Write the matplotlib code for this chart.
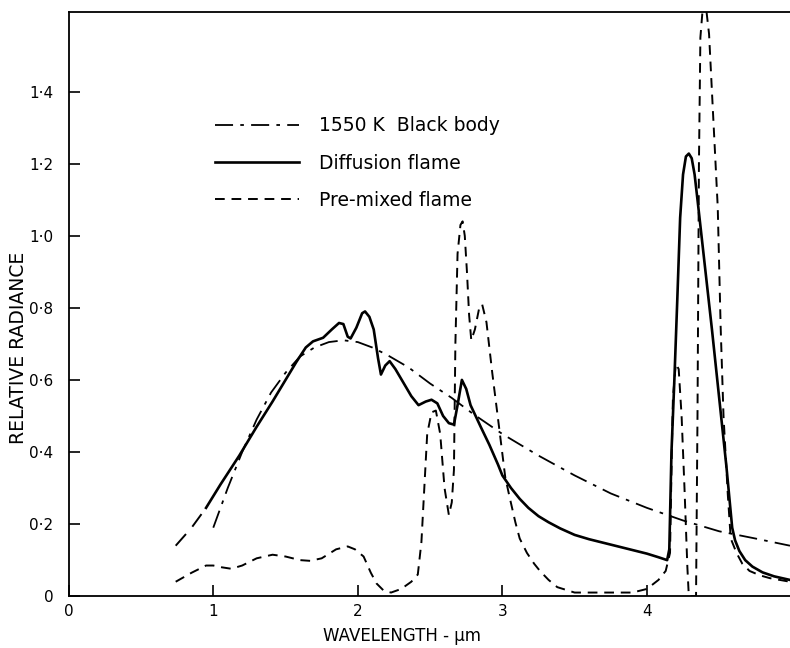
"""Relative radiance of flames vs 1550 K black body (recreated figure)."""

import matplotlib
matplotlib.use('Agg')

import matplotlib.pyplot as plt

# --- data -----------------------------------------------------------------
# 1550 K black body (dash-dot)
bb_wl = [1.00, 1.10, 1.20, 1.30, 1.40, 1.50, 1.60, 1.70, 1.80, 1.90, 2.00,
         2.10, 2.20, 2.35, 2.50, 2.65, 2.80, 3.00, 3.25, 3.50, 3.75, 4.00,
         4.25, 4.50, 4.75, 4.99]
bb_rad = [0.19, 0.30, 0.40, 0.49, 0.565, 0.62, 0.665, 0.69, 0.705, 0.71, 0.705,
          0.69, 0.67, 0.635, 0.59, 0.55, 0.505, 0.45, 0.39, 0.335, 0.285, 0.245,
          0.21, 0.18, 0.16, 0.14]

# diffusion flame, extrapolated part below ~0.95 um (long dashes)
diff_ext_wl = [0.74, 0.85, 0.95]
diff_ext_rad = [0.14, 0.19, 0.245]

# diffusion flame (solid)
diff_wl = [0.95, 1.05, 1.18, 1.30, 1.41, 1.50, 1.575, 1.64, 1.69, 1.76, 1.82,
           1.87, 1.90, 1.93, 1.95, 1.99, 2.03, 2.05, 2.08, 2.11, 2.14, 2.16,
           2.19, 2.22, 2.26, 2.31, 2.37, 2.42, 2.47, 2.51, 2.55, 2.59, 2.63,
           2.665, 2.69, 2.72, 2.75, 2.78, 2.85, 2.91, 2.97, 3.00, 3.06, 3.12,
           3.18, 3.25, 3.32, 3.40, 3.50, 3.60, 3.70, 3.80, 3.90, 4.00, 4.08,
           4.14, 4.155, 4.17, 4.19, 4.21, 4.23, 4.25, 4.27, 4.29, 4.31, 4.33,
           4.35, 4.40, 4.45, 4.50, 4.55, 4.59, 4.61, 4.64, 4.68, 4.73, 4.80,
           4.88, 4.99]
diff_rad = [0.245, 0.31, 0.39, 0.47, 0.54, 0.60, 0.65, 0.69, 0.707, 0.717, 0.74,
            0.758, 0.755, 0.72, 0.715, 0.745, 0.785, 0.79, 0.775, 0.74, 0.66, 0.615,
            0.64, 0.652, 0.63, 0.596, 0.555, 0.53, 0.54, 0.545, 0.535, 0.50, 0.48,
            0.476, 0.53, 0.60, 0.575, 0.53, 0.47, 0.42, 0.365, 0.335, 0.30, 0.27,
            0.245, 0.222, 0.205, 0.188, 0.17, 0.158, 0.148, 0.138, 0.128, 0.118, 0.108,
            0.10, 0.13, 0.40, 0.60, 0.82, 1.05, 1.17, 1.22, 1.228, 1.215, 1.17,
            1.10, 0.92, 0.74, 0.55, 0.36, 0.19, 0.155, 0.125, 0.10, 0.082, 0.066,
            0.055, 0.045]

# pre-mixed flame (dashed)
pre_wl = [0.74, 0.85, 0.95, 1.00, 1.06, 1.125, 1.20, 1.30, 1.41, 1.50, 1.60,
          1.67, 1.75, 1.85, 1.93, 1.98, 2.04, 2.09, 2.13, 2.18, 2.23, 2.30,
          2.37, 2.415, 2.44, 2.46, 2.48, 2.51, 2.54, 2.57, 2.60, 2.63, 2.65,
          2.665, 2.675, 2.69, 2.71, 2.725, 2.74, 2.755, 2.77, 2.785, 2.81, 2.84,
          2.86, 2.89, 2.93, 2.98, 3.02, 3.05, 3.09, 3.12, 3.17, 3.22, 3.26,
          3.32, 3.38, 3.50, 3.70, 3.90, 4.00, 4.08, 4.13, 4.16, 4.17, 4.18,
          4.20, 4.22, 4.24, 4.26, 4.28, 4.29, 4.34, 4.35, 4.36, 4.37, 4.39,
          4.41, 4.43, 4.46, 4.49, 4.51, 4.53, 4.56, 4.58, 4.62, 4.66, 4.71,
          4.78, 4.85, 4.99]
pre_rad = [0.04, 0.065, 0.085, 0.085, 0.08, 0.076, 0.085, 0.105, 0.115, 0.11, 0.10,
           0.098, 0.105, 0.13, 0.138, 0.13, 0.11, 0.065, 0.035, 0.015, 0.01, 0.02,
           0.04, 0.06, 0.15, 0.30, 0.45, 0.51, 0.515, 0.45, 0.30, 0.225, 0.26,
           0.35, 0.70, 0.95, 1.03, 1.04, 1.00, 0.90, 0.78, 0.71, 0.74, 0.80,
           0.81, 0.76, 0.62, 0.46, 0.33, 0.275, 0.205, 0.16, 0.12, 0.09, 0.07,
           0.045, 0.025, 0.01, 0.01, 0.01, 0.02, 0.045, 0.07, 0.12, 0.35, 0.55,
           0.645, 0.63, 0.50, 0.30, 0.08, 0.0, 0.0, 0.5, 1.2, 1.55, 1.65,
           1.63, 1.56, 1.32, 1.08, 0.75, 0.50, 0.28, 0.16, 0.12, 0.09, 0.07,
           0.058, 0.05, 0.04]

x_ticks = [0, 1, 2, 3, 4]
x_tick_labels = ['0', '1', '2', '3', '4']
y_ticks = [0, 0.2, 0.4, 0.6, 0.8, 1.0, 1.2, 1.4]
y_tick_labels = ['0', '0·2', '0·4', '0·6', '0·8', '1·0', '1·2', '1·4']

DASHDOT = (0, (10, 4, 2, 4))
PREMIX = (0, (5, 3.5))
LONGDASH = (0, (8, 5))


def main() -> None:
    fig = plt.figure(figsize=(7.9, 6.48), dpi=100)
    ax = fig.add_axes([0.087, 0.080, 0.913, 0.901])

    ax.plot(bb_wl, bb_rad, color='black', lw=1.3, linestyle=DASHDOT,
            label='1550 K  Black body')
    ax.plot(diff_wl, diff_rad, color='black', lw=1.9, linestyle='-',
            label='Diffusion flame')
    ax.plot(pre_wl, pre_rad, color='black', lw=1.4, linestyle=PREMIX,
            label='Pre-mixed flame')
    ax.plot(diff_ext_wl, diff_ext_rad, color='black', lw=1.4, linestyle=LONGDASH)

    ax.set_xlim(0, 4.99)
    ax.set_ylim(0, 1.62)

    ax.set_xticks(x_ticks)
    ax.set_xticklabels(x_tick_labels)
    ax.set_yticks(y_ticks)
    ax.set_yticklabels(y_tick_labels)
    ax.tick_params(direction='in', length=8, width=1.2, labelsize=11)
    ax.tick_params(axis='x', pad=6)
    ax.tick_params(axis='y', pad=11)

    ax.spines['right'].set_visible(False)
    for side in ('left', 'bottom', 'top'):
        ax.spines[side].set_linewidth(1.3)

    ax.set_xlabel('WAVELENGTH - µm', fontsize=12)
    ax.set_ylabel('RELATIVE RADIANCE', fontsize=13.5)
    ax.xaxis.set_label_coords(0.462, -0.052)
    ax.yaxis.set_label_coords(-0.057, 0.425)

    ax.legend(loc='upper left', bbox_to_anchor=(0.2025, 0.822), frameon=False,
              fontsize=13.5, handlelength=4.5, handletextpad=1.05,
              labelspacing=0.98, borderpad=0, borderaxespad=0)

    fig.savefig('out.png', dpi=100, facecolor='white')
    plt.close(fig)


if __name__ == '__main__':
    main()
